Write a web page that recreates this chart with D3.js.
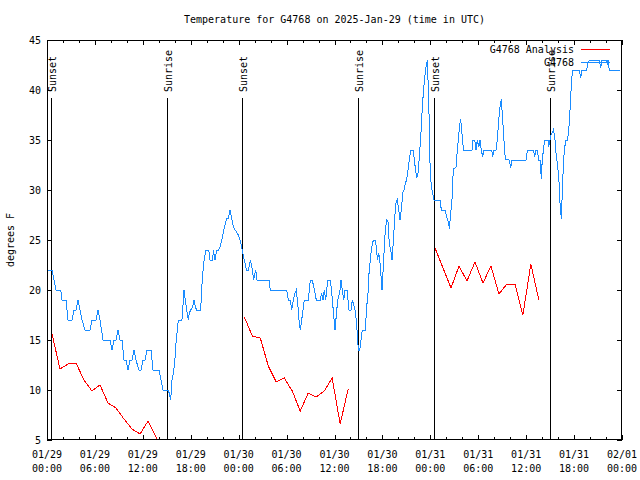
<!DOCTYPE html>
<html>
<head>
<meta charset="utf-8">
<script src="https://cdn.jsdelivr.net/npm/d3@7"></script>
<style>
  html, body { margin: 0; padding: 0; background: #fff; }
  svg { display: block; }
  text { font-family: "DejaVu Sans Mono", "Liberation Mono", monospace; font-size: 10px; fill: #000; }
</style>
</head>
<body>
<svg id="chart" width="640" height="480"></svg>
<script>
// ---------------- DATA ----------------
const chartTitle = "Temperature for G4768 on 2025-Jan-29 (time in UTC)";
const yTitle = "degrees F";
const seriesNames = ["G4768 Analysis", "G4768"];

// hours since 01/29 00:00 UTC
const xMajorTicks = [0, 6, 12, 18, 24, 30, 36, 42, 48, 54, 60, 66, 72];
const xTickDates = ["01/29", "01/29", "01/29", "01/29", "01/30", "01/30", "01/30", "01/30", "01/31", "01/31", "01/31", "01/31", "02/01"];
const xTickTimes = ["00:00", "06:00", "12:00", "18:00", "00:00", "06:00", "12:00", "18:00", "00:00", "06:00", "12:00", "18:00", "00:00"];
const xMinorTicks = [2, 4, 8, 10, 14, 16, 20, 22, 26, 28, 32, 34, 38, 40, 44, 46, 50, 52, 56, 58, 62, 64, 68, 70];
const yTicks = [5, 10, 15, 20, 25, 30, 35, 40, 45];

// Sun events (hours)
const sunLabels = ["Sunset", "Sunrise", "Sunset", "Sunrise", "Sunset", "Sunrise"];
const sunHours = [0.46, 15.05, 24.47, 38.98, 48.52, 63.0];

// Observed G4768 (blue)
const blueHours = [0.13,0.63,0.88,1.13,1.72,1.88,2.38,2.63,3.13,3.38,3.63,3.88,4.13,4.38,4.76,5.38,5.63,6.14,6.39,6.64,7.01,7.89,8.14,8.39,8.64,8.89,9.14,9.39,9.64,9.89,10.14,10.39,10.64,10.89,11.14,11.52,11.77,12.02,12.27,12.52,13.02,13.27,14.02,14.28,14.53,15.15,15.31,15.49,15.65,15.82,15.99,16.15,16.32,16.44,16.90,16.99,17.16,17.32,17.49,17.69,17.82,17.99,18.24,18.41,18.57,18.75,19.25,19.37,19.57,19.70,19.91,20.25,20.41,20.75,20.82,21.04,21.25,21.50,21.66,21.88,22.08,22.29,22.50,22.70,22.92,23.13,23.33,23.54,23.75,23.95,24.17,24.38,24.51,24.71,24.96,25.21,25.46,25.71,25.88,26.13,26.30,27.80,27.96,30.02,30.22,30.47,30.64,30.84,31.05,31.22,31.39,31.56,31.72,31.89,32.06,32.22,32.72,32.97,33.22,33.40,33.56,33.72,34.22,34.40,34.56,34.72,34.90,35.15,35.48,35.65,35.90,36.06,36.23,36.40,36.65,36.81,36.98,37.15,37.32,37.57,37.82,38.07,38.23,38.41,38.57,38.73,38.91,38.98,39.16,39.32,39.48,39.86,40.03,40.20,40.28,40.45,40.61,40.78,40.95,41.11,41.28,41.36,41.54,41.70,41.86,41.95,42.04,42.20,42.36,42.54,42.70,42.86,43.04,43.20,43.36,43.54,43.70,43.86,44.04,44.20,44.37,44.54,44.70,44.87,45.04,45.20,45.37,45.54,45.87,46.04,46.21,46.29,46.46,46.62,46.80,46.96,47.12,47.30,47.46,47.62,47.80,47.96,48.12,48.30,48.46,49.21,49.38,49.84,50.05,50.30,50.38,50.55,50.71,50.88,51.22,51.38,51.55,51.63,51.80,51.88,52.05,52.13,53.22,53.31,53.56,53.72,53.88,54.06,54.22,54.38,54.56,54.72,55.69,55.81,55.97,56.22,56.39,56.56,56.72,56.89,57.06,57.22,57.39,57.89,58.07,58.23,59.98,60.15,60.90,61.07,61.23,61.40,61.57,61.73,61.90,61.98,62.15,62.32,62.74,62.82,62.99,63.11,63.40,63.58,63.74,63.90,64.08,64.15,64.24,64.40,64.49,64.58,64.65,64.83,64.99,65.15,65.33,65.40,65.58,65.65,65.83,66.66,66.83,66.99,67.58,67.74,67.91,69.16,69.33,69.50,70.09,70.17,70.25,70.41,71.75];
const blueTemps = [22,22,21,20,20,19,19,17,17,18,18,19,18,17,16,16,17,17,18,17,15,15,14,15,15,16,15,15,13,13,12,13,13,14,13,12,12,13,13,14,14,12,12,11,10,10,9.7,9,11,11.7,12.7,14.7,16,17,17,18,20,19,18,17,17.7,18,18.3,19,18.3,18,18,20.2,22.3,23.2,24,24,23,23,24,23,24,24,24.3,25,25.8,26.5,27.2,27.2,28,27.2,26.3,26,25.8,25.5,25,24.3,23.7,23,22,22,23,22,21,22,21,21,20,20,19,19,18,19,19.7,20,18.7,17,16,17,18,19,19,21,21,20.3,19.7,19,19,19.7,19,20,19,21,21,19.7,17.5,16,17.5,19,19.7,21,20,19,20,20,18,18,19,18.5,18,17,15,14,14,15,16,16,18.3,19.7,21.3,22.7,24,24.8,25,25,24,23,23.7,22.7,21,20,21.3,23.7,26,27,26.8,24.7,24,23,24.7,27.3,28.7,29,28,27,28,29.7,30,30.7,31,32,33,34,34,32.7,31.7,31.2,31.7,33.3,35.3,37.7,39.7,41.3,42.3,43,39,32.7,30.3,29.7,29,29,28,28,27.3,26.7,26.1,27.7,29,32.1,32.3,34,35.3,36.3,37.1,36.3,35,34,34,35,35,34,35,34.3,35,34,33.3,34,34,33.3,34,34,35,37,38.3,39.1,37,35,33.1,33,32.2,33,33,34,34,33.3,34,34,33,33,31.1,32.5,34,35,35,34.3,35,35.5,36,35.3,33.7,32.7,31.3,30.3,28.7,27.1,29,30.7,32.7,34.3,35,35,35.8,37,39,40.7,42,42,41.2,42,42,42.7,43,43,42.2,43,43,42.5,43,42,42];

// Analysis (red), three runs
const redHours1 = [0.63,1.63,2.63,3.63,4.63,5.63,6.64,7.64,8.64,9.64,10.64,11.65,12.65,13.65,14.65];
const redTemps1 = [15.6,12.1,12.6,12.7,11.0,9.9,10.5,8.7,8.2,7.1,6.1,5.6,6.9,5.3,3.6];
const redHours2 = [24.71,25.71,26.71,27.71,28.71,29.71,30.71,31.71,32.71,33.71,34.71,35.71,36.71,37.71];
const redTemps2 = [17.3,15.4,15.2,12.4,10.8,11.2,9.9,7.9,9.7,9.3,9.9,11.2,6.6,10.1];
const redHours3 = [48.59,49.59,50.59,51.59,52.59,53.59,54.59,55.59,56.59,57.59,58.59,59.59,60.59,61.59];
const redTemps3 = [24.2,22.2,20.2,22.4,20.9,22.8,20.7,22.4,19.6,20.6,20.6,17.5,22.6,19.0];

// ---------------- DRAW ----------------
const m = { left: 47, right: 622, top: 40, bottom: 440 };
const svg = d3.select("#chart");
const blue = "#1a8cff", red = "#ff0000";

const x = d3.scaleLinear().domain([0, 72]).range([m.left, m.right]);
const y = d3.scaleLinear().domain([5, 45]).range([m.bottom, m.top]);

svg.append("defs").append("clipPath").attr("id", "plotclip")
  .append("rect").attr("x", m.left).attr("y", m.top)
  .attr("width", m.right - m.left).attr("height", m.bottom - m.top);

// Title
svg.append("text").attr("x", (m.left + m.right) / 2).attr("y", 19)
  .attr("text-anchor", "middle").attr("dominant-baseline", "central").text(chartTitle);

// Y title
svg.append("text").attr("transform", `translate(10,${(m.top + m.bottom) / 2}) rotate(-90)`)
  .attr("text-anchor", "middle").attr("dominant-baseline", "central").text(yTitle);

// Axes (ticks inward, mirrored)
function styleAxis(g) {
  g.select(".domain").remove();
  g.selectAll("line").attr("stroke", "#000").attr("shape-rendering", "crispEdges");
  g.selectAll("text").remove();
}
svg.append("g").attr("transform", `translate(0,${m.bottom})`)
  .call(d3.axisBottom(x).tickValues(xMajorTicks).tickSize(-5)).call(styleAxis);
svg.append("g").attr("transform", `translate(0,${m.bottom})`)
  .call(d3.axisBottom(x).tickValues(xMinorTicks).tickSize(-3)).call(styleAxis);
svg.append("g").attr("transform", `translate(0,${m.top})`)
  .call(d3.axisTop(x).tickValues(xMajorTicks).tickSize(-5)).call(styleAxis);
svg.append("g").attr("transform", `translate(0,${m.top})`)
  .call(d3.axisTop(x).tickValues(xMinorTicks).tickSize(-3)).call(styleAxis);
svg.append("g").attr("transform", `translate(${m.left},0)`)
  .call(d3.axisLeft(y).tickValues(yTicks).tickSize(-5)).call(styleAxis);
svg.append("g").attr("transform", `translate(${m.right},0)`)
  .call(d3.axisRight(y).tickValues(yTicks).tickSize(-5)).call(styleAxis);

// Tick labels
const xl = svg.append("g");
xMajorTicks.forEach((h, i) => {
  xl.append("text").attr("x", x(h)).attr("y", 454).attr("text-anchor", "middle")
    .attr("dominant-baseline", "central").text(xTickDates[i]);
  xl.append("text").attr("x", x(h)).attr("y", 468).attr("text-anchor", "middle")
    .attr("dominant-baseline", "central").text(xTickTimes[i]);
});
svg.append("g").selectAll("text").data(yTicks).join("text")
  .attr("x", 41).attr("y", d => y(d)).attr("text-anchor", "end")
  .attr("dominant-baseline", "central").text(d => d);

// Sun lines
const sun = svg.append("g");
sunHours.forEach((h, i) => {
  const sx = Math.round(x(h)) + 0.5;
  sun.append("line").attr("x1", sx).attr("x2", sx).attr("y1", 98).attr("y2", m.bottom)
    .attr("stroke", "#000").attr("shape-rendering", "crispEdges");
  sun.append("text").attr("transform", `translate(${sx + 4},92) rotate(-90)`)
    .attr("text-anchor", "start").text(sunLabels[i]);
});

// Data lines
const line = d3.line().x(d => x(d[0])).y(d => y(d[1]));
const plot = svg.append("g").attr("clip-path", "url(#plotclip)");
[[redHours1, redTemps1], [redHours2, redTemps2], [redHours3, redTemps3]].forEach(([hs, ts]) => {
  plot.append("path").datum(hs.map((h, i) => [h, ts[i]]))
    .attr("d", line).attr("fill", "none").attr("stroke", red).attr("stroke-width", 1)
    .attr("shape-rendering", "crispEdges");
});
plot.append("path").datum(blueHours.map((h, i) => [h, blueTemps[i]]))
  .attr("d", line).attr("fill", "none").attr("stroke", blue).attr("stroke-width", 1)
  .attr("shape-rendering", "crispEdges");

// Border
svg.append("rect").attr("x", m.left + 0.5).attr("y", m.top + 0.5)
  .attr("width", m.right - m.left - 1).attr("height", m.bottom - m.top - 1)
  .attr("fill", "none").attr("stroke", "#000").attr("shape-rendering", "crispEdges");

// Legend
const leg = svg.append("g");
[[seriesNames[0], red, 49.5], [seriesNames[1], blue, 62.5]].forEach(([name, col, ly]) => {
  leg.append("text").attr("x", 574).attr("y", ly).attr("text-anchor", "end")
    .attr("dominant-baseline", "central").text(name);
  leg.append("line").attr("x1", 581).attr("x2", 610).attr("y1", ly).attr("y2", ly)
    .attr("stroke", col).attr("stroke-width", 1).attr("shape-rendering", "crispEdges");
});
</script>
</body>
</html>
